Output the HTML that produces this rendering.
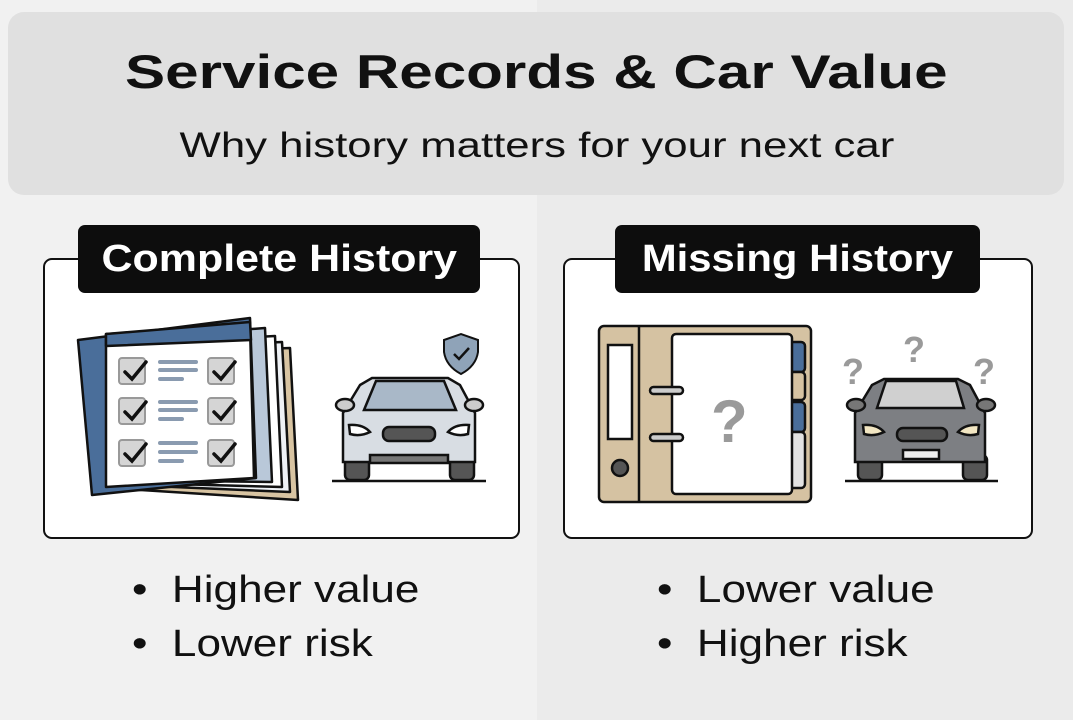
<!DOCTYPE html>
<html><head><meta charset="utf-8"><style>
body{margin:0;width:1073px;height:720px;overflow:hidden;font-family:"Liberation Sans","DejaVu Sans",sans-serif;background:linear-gradient(90deg,#f1f1f1 0,#f1f1f1 537px,#ebebeb 537px)}
.hdr{position:absolute;left:8px;top:12px;width:1056px;height:183px;background:#e0e0e0;border-radius:16px}
.t{position:absolute;left:0;width:1073px;text-align:center;color:#111}
.t span,.lab span{display:inline-block}
.card{position:absolute;top:258px;height:277px;background:#fff;border:2.5px solid #111;border-radius:9px}
.lab{position:absolute;top:225px;height:68px;background:#0d0d0d;color:#fff;border-radius:7px;font-weight:bold;font-size:38px;text-align:center;line-height:68px}
.bl{position:absolute;font-size:38px;color:#111;line-height:54px;transform:scaleX(1.16);transform-origin:0 0}
</style></head><body>
<div class="hdr"></div>
<div class="t" style="top:44px;font-size:47px;font-weight:bold"><span style="transform:scaleX(1.28)">Service Records &amp; Car Value</span></div>
<div class="t" style="top:126px;font-size:35px"><span style="transform:scaleX(1.25)">Why history matters for your next car</span></div>
<div class="card" style="left:43px;width:473px"></div>
<div class="card" style="left:563px;width:466px"></div>
<div class="lab" style="left:78px;width:402px"><span style="transform:scaleX(1.13)">Complete History</span></div>
<div class="lab" style="left:615px;width:365px"><span style="transform:scaleX(1.1)">Missing History</span></div>
<svg style="position:absolute;left:0;top:0" width="1073" height="720">
<g stroke="#111" stroke-width="2.5" stroke-linejoin="round">
<path d="M100 355 L290 348 L298 500 L110 488Z" fill="#d8c4a2"/>
<path d="M95 350 L282 342 L290 492 L105 484Z" fill="#eef1f5"/>
<path d="M90 346 L275 336 L282 487 L100 482Z" fill="#fff"/>
<path d="M85 342 L265 328 L272 482 L96 480Z" fill="#b9c8d9"/>
<path d="M78 340 L250 318 L256 478 L92 495Z" fill="#4a6e9a"/>
<path d="M106 334 L250 326 L254 478 L106 487Z" fill="#fff"/>
<path d="M106 334 L250 322 L251 340 L106 346Z" fill="#4a6e9a"/>
</g>
<g fill="#d5d5d5" stroke="#999" stroke-width="2">
<rect x="119" y="358" width="26" height="26" rx="3"/><rect x="208" y="358" width="26" height="26" rx="3"/>
<rect x="119" y="398" width="26" height="26" rx="3"/><rect x="208" y="398" width="26" height="26" rx="3"/>
<rect x="119" y="440" width="26" height="26" rx="3"/><rect x="208" y="440" width="26" height="26" rx="3"/>
</g>
<g stroke="#111" stroke-width="3.5" fill="none" stroke-linecap="round">
<path d="M125 372l7 7 14-17M214 372l7 7 14-17M125 412l7 7 14-17M214 412l7 7 14-17M125 454l7 7 14-17M214 454l7 7 14-17"/>
</g>
<g stroke="#8a9bb0" stroke-width="4" stroke-linecap="round">
<path d="M160 362h36M160 370h36M160 379h22M160 402h36M160 410h36M160 419h22M160 443h36M160 452h36M160 461h22"/>
</g>
<path d="M444 340 L461 334 L478 340 L478 352 Q476 366 461 374 Q446 366 444 352Z" fill="#8fa3b8" stroke="#111" stroke-width="2"/>
<path d="M454 354l5 5 10-11" stroke="#111" stroke-width="2.5" fill="none"/>
<g stroke="#111" stroke-width="2.5">
<rect x="345" y="455" width="24" height="25" rx="5" fill="#555"/><rect x="450" y="455" width="24" height="25" rx="5" fill="#555"/>
<path d="M360 385 L372 378 L448 378 L460 385 L475 413 L475 462 L343 462 L343 413Z" fill="#d8dde3"/>
<path d="M364 410 L376 381 L444 381 L456 410Z" fill="#a9b8c8"/>
<ellipse cx="345" cy="405" rx="9" ry="6" fill="#ccc"/><ellipse cx="474" cy="405" rx="9" ry="6" fill="#ccc"/>
<path d="M349 425 Q363 424 370 432 Q360 437 350 434Z" fill="#fff"/><path d="M469 425 Q455 424 448 432 Q458 437 468 434Z" fill="#fff"/>
<rect x="383" y="427" width="52" height="14" rx="6" fill="#555"/>
<rect x="370" y="455" width="78" height="8" fill="#777"/>
<path d="M332 481 H486" fill="none"/>
</g>
<g stroke="#111" stroke-width="2.5">
<rect x="599" y="326" width="212" height="176" rx="5" fill="#d5c2a2"/>
<path d="M639 326 V502"/>
<rect x="608" y="345" width="24" height="94" fill="#fff"/>
<circle cx="620" cy="468" r="8" fill="#555"/>
<rect x="789" y="342" width="16" height="30" rx="4" fill="#4a6e9a"/><rect x="789" y="372" width="16" height="28" rx="4" fill="#d5c2a2"/>
<rect x="789" y="402" width="16" height="30" rx="4" fill="#4a6e9a"/><rect x="789" y="432" width="16" height="56" rx="4" fill="#e2e2e2"/>
<rect x="672" y="334" width="120" height="160" rx="4" fill="#fff"/>
<rect x="650" y="387" width="33" height="7" rx="3.5" fill="#ccc"/><rect x="650" y="434" width="33" height="7" rx="3.5" fill="#ccc"/>
</g>
<g fill="#9a9a9a" font-weight="bold" font-family="Liberation Sans,sans-serif">
<text x="711" y="442" font-size="60">?</text>
<text x="842" y="384" font-size="36">?</text><text x="903" y="362" font-size="36">?</text><text x="973" y="384" font-size="36">?</text>
</g>
<g stroke="#111" stroke-width="2.5">
<rect x="858" y="455" width="24" height="25" rx="5" fill="#555"/><rect x="963" y="455" width="24" height="25" rx="5" fill="#555"/>
<path d="M872 385 L884 379 L958 379 L970 385 L985 413 L985 462 L855 462 L855 413Z" fill="#7d7f83"/>
<path d="M877 408 L886 381 L956 381 L964 408Z" fill="#d0d0d0"/>
<ellipse cx="856" cy="405" rx="9" ry="6" fill="#777"/><ellipse cx="986" cy="405" rx="9" ry="6" fill="#777"/>
<path d="M863 425 Q877 424 884 432 Q874 437 864 434Z" fill="#f2e6c2"/><path d="M979 425 Q965 424 958 432 Q968 437 978 434Z" fill="#f2e6c2"/>
<rect x="897" y="428" width="50" height="13" rx="6" fill="#555"/>
<rect x="903" y="450" width="36" height="9" fill="#eee"/>
<path d="M845 481 H998" fill="none"/>
</g>
</svg>
<div class="bl" style="left:132px;top:563px">•&nbsp; Higher value<br>•&nbsp; Lower risk</div>
<div class="bl" style="left:657px;top:563px">•&nbsp; Lower value<br>•&nbsp; Higher risk</div>
</body></html>
